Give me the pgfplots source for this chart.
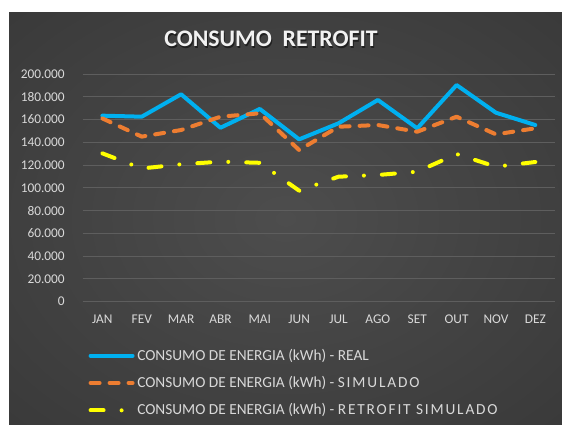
\documentclass[border=0pt]{standalone}
\usepackage{fontspec}
\setmainfont{Carlito}
\newfontfamily\widefont[LetterSpace=12]{Carlito}
\usepackage{pgfplots}
\pgfplotsset{compat=1.18}
\definecolor{cblue}{HTML}{00B0F0}
\definecolor{corange}{HTML}{ED7D31}
\definecolor{cyellow}{HTML}{FFFF00}
\definecolor{bgin}{HTML}{4D4D4D}
\definecolor{bgout}{HTML}{262626}
\definecolor{gridc}{HTML}{5E5E5E}
\definecolor{txt}{HTML}{D9D9D9}
\pgfdeclareradialshading{bgshade}{\pgfpoint{0bp}{0bp}}{color(0bp)=(bgin); color(72bp)=(bgout)}
\begin{document}
\begin{tikzpicture}
\begin{scope}[x=0.75pt,y=-0.75pt]
\fill[white] (0,0) rectangle (562,425);
\shade[shading=bgshade] (9,12) rectangle (562,425);
\node[text=black, opacity=0.5, font=\fontsize{17.8}{20}\selectfont\bfseries] at (272,40.5) {CONSUMO\ \ RETROFIT};
\node[text=white!95!black, font=\fontsize{17.8}{20}\selectfont\bfseries] at (271,39) {CONSUMO\ \ RETROFIT};
\end{scope}
\begin{axis}[
  at={(62.025pt,-226.275pt)}, anchor=south west,
  scale only axis, width=354.225pt, height=170.775pt,
  xmin=-0.5, xmax=11.5, ymin=0, ymax=200000,
  axis line style={draw=none},
  major tick length=0pt,
  ymajorgrids,
  grid style={gridc, line width=0.75pt},
  xtick={0,...,11},
  xticklabels={JAN,FEV,MAR,ABR,MAI,JUN,JUL,AGO,SET,OUT,NOV,DEZ},
  ytick={0,20000,...,200000},
  scaled y ticks=false,
  /pgf/number format/.cd, fixed, 1000 sep={.}, assume math mode=true, /pgfplots/.cd,
  ticklabel style={font=\fontsize{10}{12}\selectfont, text=txt, inner sep=0pt},
  yticklabel style={anchor=east, xshift=-13.3pt},
  xticklabel style={anchor=center, yshift=-13pt},
  legend style={at={(0.0119,-0.195)}, anchor=north west, draw=none, fill=none,
    text=txt, font=\fontsize{11.5}{13}\selectfont, row sep=6.6pt, inner sep=0pt},
  legend cell align=left,
  legend image code/.code={\draw[#1] (0pt,0pt) -- (31.5pt,0pt);},
  every axis plot/.append style={line width=3pt, line cap=round, line join=round},
]
\addplot[cblue] coordinates {(0,163400) (1,162500) (2,182200) (3,152800) (4,169300) (5,142600) (6,156700) (7,177200) (8,152300) (9,190300) (10,166000) (11,155200)};
\addlegendentry{CONSUMO DE ENERGIA (kWh) - REAL}
\addplot[corange, dash pattern=on 6.75pt off 7.5pt] coordinates {(0,161000) (1,145000) (2,150800) (3,162500) (4,165500) (5,133200) (6,153700) (7,155200) (8,149300) (9,162500) (10,147000) (11,152300)};
\addlegendentry{CONSUMO DE ENERGIA (kWh) - {\widefont SIMULADO}}
\addplot[cyellow, dash pattern=on 9.75pt off 13.5pt on 0pt off 13.5pt] coordinates {(0,130300) (1,117000) (2,120700) (3,123000) (4,122000) (5,97500) (6,109800) (7,111300) (8,114200) (9,129700) (10,118600) (11,122700)};
\addlegendentry{CONSUMO DE ENERGIA (kWh) - {\widefont RETROFIT SIMULADO}}
\end{axis}
\end{tikzpicture}
\end{document}
